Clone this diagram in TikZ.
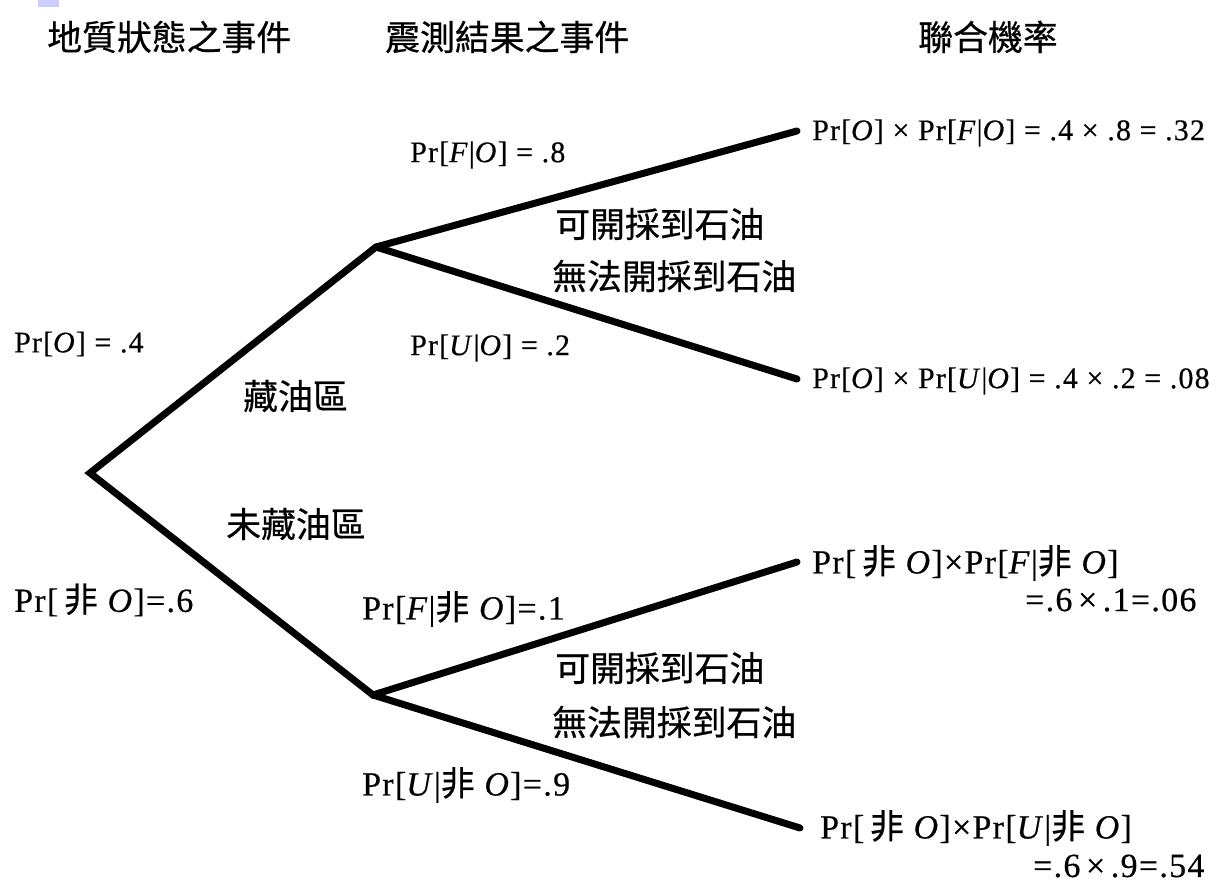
\documentclass[tikz,border=0pt]{standalone}
\usepackage{fontspec}
\setmainfont{Liberation Serif}
\newfontfamily\cjk[FakeBold=0.6]{Noto Sans CJK TC}
\newfontfamily\labA[LetterSpace=4,FakeBold=0.5]{Liberation Serif}
\newcommand\fei{{\cjk 非}}
\begin{document}
\begin{tikzpicture}[x=1bp,y=-1bp]
\tikzset{
  branch/.style={line width=7bp, line join=miter, line cap=round},
  zh/.style={anchor=west, inner sep=0pt, font=\cjk\fontsize{35}{35}\selectfont},
  up/.style={anchor=west, inner sep=0pt, font=\labA\fontsize{30}{30}\selectfont},
  lo/.style={anchor=west, inner sep=0pt, font=\labA\fontsize{34}{34}\selectfont},
}
\useasboundingbox[fill=white] (0,0) rectangle (1231,895);
\fill[blue!20] (38,0) rectangle (59,7);

% headers
\node[zh] (h1) at (47,37) {地質狀態之事件};
\node[zh] (h2) at (385,37) {震測結果之事件};
\node[zh] (h3) at (918,37) {聯合機率};

% tree points
\coordinate (root) at (90,473);
\coordinate (a) at (376,247);
\coordinate (b) at (373,695);
\coordinate (a1) at (797,131);
\coordinate (a2) at (797,379);
\coordinate (b1) at (797,562);
\coordinate (b2) at (800,828);

\draw[branch] (a1) -- (a) -- (root) -- (b) -- (b1);
\draw[branch] (a) -- (a2);
\draw[branch] (b) -- (b2);

% branch texts
\node[zh] (t1) at (243,396) {藏油區};
\node[zh] (t2) at (226,524) {未藏油區};
\node[zh] (t3) at (555,224) {可開採到石油};
\node[zh] (t4) at (552,276) {無法開採到石油};
\node[zh] (t5) at (555,668) {可開採到石油};
\node[zh] (t6) at (552,722) {無法開採到石油};

% probabilities
\node[up] (p1) at (14,344) {Pr[\textit{O}] = .4};
\node[up] (p2) at (410,155) {Pr[\textit{F}|\textit{O}] = .8};
\node[up] (p3) at (410,348) {Pr[\textit{U}|\textit{O}] = .2};
\node[lo] (p4) at (14,600) {Pr[\,\fei\ \textit{O}]=.6};
\node[lo] (p5) at (362,609) {Pr[\textit{F}|\fei\ \textit{O}]=.1};
\node[lo] (p6) at (362,785) {Pr[\textit{U}|\fei\ \textit{O}]=.9};

% joint probabilities
\node[up] (j1) at (812,133) {Pr[\textit{O}] × Pr[\textit{F}|\textit{O}] = .4 × .8 = .32};
\node[up] (j2) at (812,381) {Pr[\textit{O}] × Pr[\textit{U}|\textit{O}] = .4 × .2 = .08};
\node[lo] (j3) at (812,563) {Pr[\,\fei\ \textit{O}]×Pr[\textit{F}|\fei\ \textit{O}]};
\node[lo] (j3b) at (1025,600) {=.6\,×\,.1=.06};
\node[lo] (j4) at (820,828) {Pr[\,\fei\ \textit{O}]×Pr[\textit{U}|\fei\ \textit{O}]};
\node[lo] (j4b) at (1033,866) {=.6\,×\,.9=.54};
\end{tikzpicture}
\end{document}
